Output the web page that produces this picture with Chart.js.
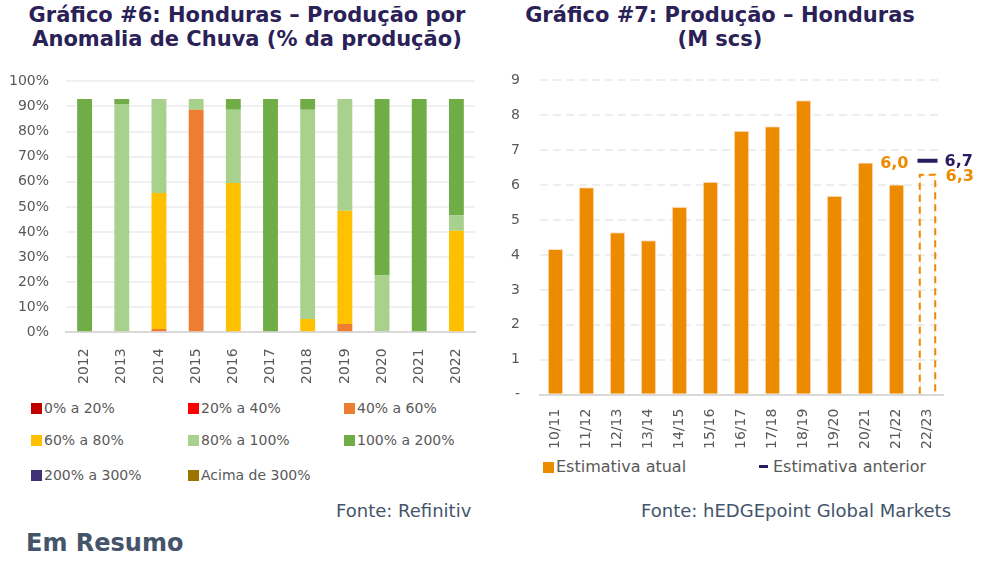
<!DOCTYPE html>
<html>
<head>
<meta charset="utf-8">
<script src="https://cdn.jsdelivr.net/npm/chart.js@4.4.0/dist/chart.umd.min.js"></script>
<style>
  body { margin: 0; width: 991px; height: 572px; background: #fff; position: relative; overflow: hidden;
         font-family: "DejaVu Sans", sans-serif; }
  .title { position: absolute; color: #2a2157; font-weight: 700; font-size: 21px; line-height: 24px; text-align: center; }
  .box { position: absolute; }
  .leg { position: absolute; font-size: 14px; color: #595959; white-space: nowrap; }
  .leg i { display: inline-block; width: 11px; height: 11px; margin-right: 2px; vertical-align: -1px; }
  .src { position: absolute; font-size: 18px; color: #44546a; white-space: nowrap; }
</style>
</head>
<body>
<div class="title" style="left:0; top:3px; width:494px;">Gráfico #6: Honduras – Produção por<br>Anomalia de Chuva (% da produção)</div>
<div class="title" style="left:470px; top:3px; width:500px;">Gráfico #7: Produção – Honduras<br>(M scs)</div>

<div class="box" style="left:0; top:56px; width:485px; height:336px;"><canvas id="chuva"></canvas></div>
<div class="box" style="left:495px; top:52px; width:490px; height:403px;"><canvas id="producao"></canvas></div>

<div id="legChuva"></div>
<div class="leg" style="left:543px; top:457px; font-size:16px;"><i style="background:#ed8b00; vertical-align:-1px"></i>Estimativa atual</div>
<div class="leg" style="left:759px; top:457px; font-size:16px;"><i style="background:#2b1a5e; height:3px; width:9px; vertical-align:4px; margin-right:5px"></i>Estimativa anterior</div>

<div class="src" style="left:336px; top:500px;">Fonte: Refinitiv</div>
<div class="src" style="left:641px; top:500px;">Fonte: hEDGEpoint Global Markets</div>
<div style="position:absolute; left:26px; top:529px; font-size:24px; font-weight:700; color:#44546a;">Em Resumo</div>

<script>
// Gráfico #6
const anos = ["2012", "2013", "2014", "2015", "2016", "2017", "2018", "2019", "2020", "2021", "2022"];
const faixas = ["0% a 20%", "20% a 40%", "40% a 60%", "60% a 80%", "80% a 100%", "100% a 200%", "200% a 300%", "Acima de 300%"];
const coresFaixas = ["#c00000", "#ff0000", "#ed7d31", "#ffc000", "#a9d18e", "#70ad47", "#3f3277", "#9c7400"];
const f0a20 = [0, 0, 0, 0, 0, 0, 0, 0, 0, 0, 0];
const f20a40 = [0, 0, 0, 0, 0, 0, 0, 0, 0, 0, 0];
const f40a60 = [0, 0, 1.3, 88.7, 0, 0, 0, 3.3, 0, 0, 0];
const f60a80 = [0, 0, 54.2, 0, 59.5, 0, 5.3, 45.2, 0, 0, 40.5];
const f80a100 = [0, 91, 37.5, 4.3, 29.2, 0, 83.4, 44.5, 22.7, 0, 6.1];
const f100a200 = [93, 2, 0, 0, 4.3, 93, 4.3, 0, 70.3, 93, 46.4];
const f200a300 = [0, 0, 0, 0, 0, 0, 0, 0, 0, 0, 0];
const acima300 = [0, 0, 0, 0, 0, 0, 0, 0, 0, 0, 0];
const pctTicks = [0, 10, 20, 30, 40, 50, 60, 70, 80, 90, 100];

// Gráfico #7
const safras = ["10/11", "11/12", "12/13", "13/14", "14/15", "15/16", "16/17", "17/18", "18/19", "19/20", "20/21", "21/22", "22/23"];
const estimativaAtual = [4.17, 5.94, 4.65, 4.42, 5.38, 6.10, 7.56, 7.69, 8.43, 5.70, 6.65, 6.02, 6.3];
const estimativaAnterior = [null, null, null, null, null, null, null, null, null, null, null, null, 6.7];
const rotulos = [{ i: 11, v: 6.6, text: "6,0", color: "#ed8b00", dx: 12, align: "right" },
                 { i: 12, v: 6.67, text: "6,7", color: "#2b1a5e", dx: 17, align: "left" },
                 { i: 12, v: 6.23, text: "6,3", color: "#ed8b00", dx: 18, align: "left" }];

const grey = "#595959";
const font = { family: "'DejaVu Sans', sans-serif", size: 14 };

const series = [f0a20, f20a40, f40a60, f60a80, f80a100, f100a200, f200a300, acima300];

new Chart(document.getElementById("chuva"), {
  type: "bar",
  data: {
    labels: anos,
    datasets: series.map((d, k) => ({
      label: faixas[k],
      data: d,
      backgroundColor: coresFaixas[k],
      barPercentage: 0.4,
      categoryPercentage: 1,
    })),
  },
  options: {
    responsive: true,
    maintainAspectRatio: false,
    animation: false,
    layout: { padding: { left: 0, right: 10, top: 0, bottom: 0 } },
    plugins: { legend: { display: false }, tooltip: { enabled: false } },
    scales: {
      x: {
        stacked: true,
        grid: { display: false },
        border: { color: "#d9d9d9", width: 2 },
        ticks: { color: grey, font: font, maxRotation: 90, minRotation: 90, padding: 8 },
      },
      y: {
        stacked: true,
        min: 0,
        max: 100,
        afterBuildTicks: (s) => { s.ticks = pctTicks.map((v) => ({ value: v })); },
        afterFit: (s) => { s.width = 66; },
        grid: { color: "#f0f0f0", lineWidth: 2, drawTicks: false },
        border: { display: false },
        ticks: { color: grey, font: font, padding: 17, callback: (v) => v + "%" },
      },
    },
  },
});

// legenda do gráfico #6
const legChuva = document.getElementById("legChuva");
const colX = [31, 188, 344];
const rowY = [400, 432, 467];
faixas.forEach((f, k) => {
  const el = document.createElement("div");
  el.className = "leg";
  el.style.left = colX[k % 3] + "px";
  el.style.top = rowY[Math.floor(k / 3)] + "px";
  el.innerHTML = '<i style="background:' + coresFaixas[k] + '"></i>' + f;
  legChuva.appendChild(el);
});

const dashedBar = {
  id: "dashedBar",
  afterDatasetsDraw(chart) {
    const ctx = chart.ctx;
    const bar = chart.getDatasetMeta(0).data[12];
    const w = bar.width / 2;
    ctx.save();
    ctx.strokeStyle = "#ed8b00";
    ctx.lineWidth = 2;
    ctx.setLineDash([7, 5]);
    ctx.beginPath();
    ctx.moveTo(bar.x - w, bar.base);
    ctx.lineTo(bar.x - w, bar.y);
    ctx.lineTo(bar.x + w, bar.y);
    ctx.lineTo(bar.x + w, bar.base);
    ctx.stroke();
    ctx.restore();
    ctx.save();
    ctx.font = "bold 16px 'DejaVu Sans', sans-serif";
    ctx.textBaseline = "middle";
    const xs = chart.scales.x, ys = chart.scales.y;
    rotulos.forEach((r) => {
      ctx.fillStyle = r.color;
      ctx.textAlign = r.align;
      ctx.fillText(r.text, xs.getPixelForValue(r.i) + r.dx, ys.getPixelForValue(r.v));
    });
    ctx.restore();
  },
};

new Chart(document.getElementById("producao"), {
  type: "bar",
  data: {
    labels: safras,
    datasets: [
      {
        label: "Estimativa atual",
        data: estimativaAtual,
        backgroundColor: estimativaAtual.map((v, i) => (i === 12 ? "rgba(0,0,0,0)" : "#ed8b00")),
        borderColor: "rgba(255,220,190,0.8)",
        borderWidth: { left: 1, right: 1, top: 1, bottom: 0 },
        barPercentage: 0.5,
        categoryPercentage: 1,
        order: 2,
      },
      {
        label: "Estimativa anterior",
        type: "line",
        data: estimativaAnterior,
        showLine: false,
        pointStyle: "line",
        pointRadius: 10,
        pointBorderWidth: 4,
        borderColor: "#2b1a5e",
        order: 1,
      },
    ],
  },
  options: {
    responsive: true,
    maintainAspectRatio: false,
    animation: false,
    layout: { padding: { left: 0, right: 42, top: 0, bottom: 0 } },
    plugins: { legend: { display: false }, tooltip: { enabled: false } },
    scales: {
      x: {
        grid: { display: false },
        border: { color: "#d9d9d9", width: 2 },
        ticks: { color: grey, font: font, maxRotation: 90, minRotation: 90, padding: 6 },
      },
      y: {
        min: 0,
        max: 9,
        ticks: { stepSize: 1, color: grey, font: font, padding: 20, callback: (v) => (v === 0 ? "-" : v) },
        afterFit: (s) => { s.width = 45; },
        grid: { color: "#eeeeee", lineWidth: 2, drawTicks: false },
        border: { display: false, dash: [8, 5] },
      },
    },
  },
  plugins: [dashedBar],
});
</script>
</body>
</html>
